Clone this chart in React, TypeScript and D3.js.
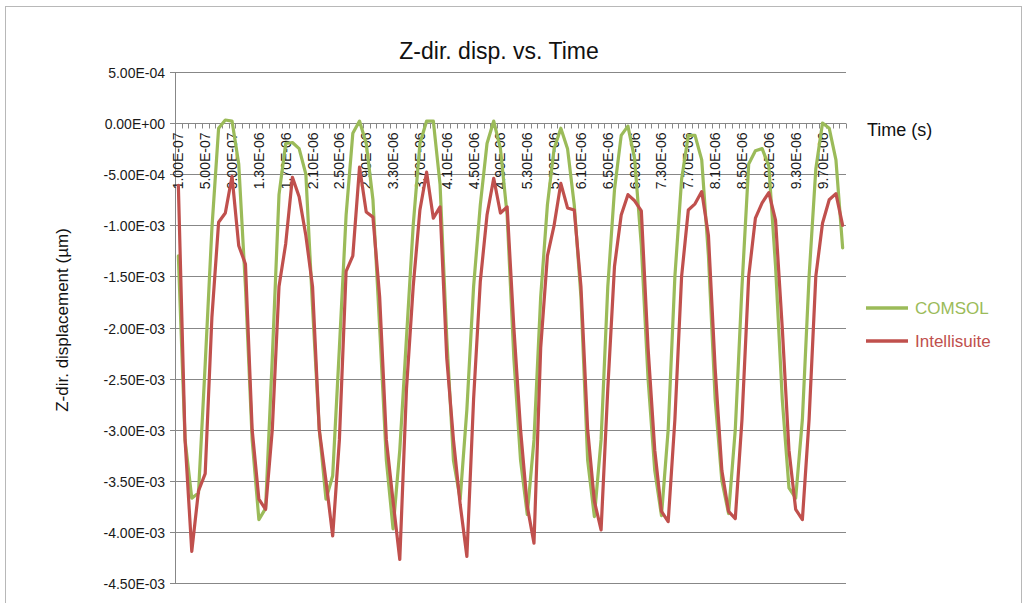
import * as d3 from "d3";
import { useEffect, useRef } from "react";

// time steps (s), one category every 1E-07
const timeSteps = d3.range(1, 101).map(k => k * 1e-7);

// only every 4th category gets a label
const xTickLabels = [
    "1.00E-07", "5.00E-07", "9.00E-07", "1.30E-06", "1.70E-06", "2.10E-06", "2.50E-06",
    "2.90E-06", "3.30E-06", "3.70E-06", "4.10E-06", "4.50E-06", "4.90E-06", "5.30E-06",
    "5.70E-06", "6.10E-06", "6.50E-06", "6.90E-06", "7.30E-06", "7.70E-06", "8.10E-06",
    "8.50E-06", "8.90E-06", "9.30E-06", "9.70E-06"
];

const yTickValues = [0.5, 0, -0.5, -1, -1.5, -2, -2.5, -3, -3.5, -4, -4.5]; // x 1E-03

// z displacement, in units of 1E-03 um
const comsol = [
    -1.30, -3.10, -3.67, -3.62, -2.36, -1.03, -0.05, 0.03, 0.02, -0.40,
    -1.60, -3.10, -3.88, -3.77, -2.30, -0.70, -0.20, -0.19, -0.25, -0.50,
    -1.80, -3.00, -3.68, -3.45, -2.20, -0.90, -0.10, 0.02, -0.20, -0.75,
    -2.00, -3.30, -3.97, -3.20, -2.10, -1.00, -0.20, 0.02, 0.02, -0.60,
    -2.10, -3.30, -3.68, -2.80, -1.60, -0.80, -0.20, 0.02, -0.25, -0.90,
    -2.30, -3.30, -3.83, -3.10, -1.70, -0.80, -0.25, -0.05, -0.25, -0.80,
    -1.70, -3.30, -3.85, -3.10, -1.60, -0.65, -0.12, -0.03, -0.35, -1.20,
    -2.50, -3.40, -3.84, -3.00, -1.50, -0.55, -0.12, -0.12, -0.36, -1.30,
    -2.70, -3.50, -3.82, -3.00, -1.60, -0.40, -0.27, -0.25, -0.42, -1.40,
    -2.70, -3.57, -3.67, -2.90, -1.50, -0.45, 0.00, -0.05, -0.36, -1.22
];

const intellisuite = [
    -0.61, -3.10, -4.19, -3.60, -3.43, -1.90, -0.97, -0.88, -0.52, -1.20,
    -1.38, -3.00, -3.68, -3.78, -3.00, -1.60, -1.18, -0.53, -0.72, -1.10,
    -1.60, -3.00, -3.50, -4.04, -3.10, -1.45, -1.30, -0.43, -0.87, -0.92,
    -1.70, -3.10, -3.70, -4.27, -2.60, -1.60, -0.85, -0.48, -0.93, -0.82,
    -2.30, -3.10, -3.73, -4.24, -2.70, -1.55, -0.90, -0.54, -0.88, -0.82,
    -2.00, -3.00, -3.75, -4.11, -2.20, -1.30, -1.00, -0.59, -0.83, -0.85,
    -1.60, -3.00, -3.70, -3.98, -2.60, -1.40, -0.90, -0.70, -0.76, -0.86,
    -2.20, -3.20, -3.80, -3.90, -2.90, -1.50, -0.85, -0.79, -0.67, -1.10,
    -2.40, -3.40, -3.80, -3.87, -2.90, -1.50, -0.93, -0.78, -0.68, -0.95,
    -2.00, -3.20, -3.78, -3.88, -2.90, -1.50, -0.98, -0.75, -0.69, -1.00
];

const seriesNames = ["COMSOL", "Intellisuite"];
const seriesColors = ["#9bbb59", "#c0504d"];

const FONT = "'Liberation Sans', Arial, sans-serif";

const formatTick = (v: number) => {
    const s = (v * 1e-3).toExponential(2).toUpperCase();
    return s.replace(/E([+-])(\d)$/, "E$10$2");
};

const renderChart = (node: SVGSVGElement | null) => {
    if (!node) return;
    const svg = d3.select(node);
    svg.selectAll("*").remove();

    const left = 175, right = 846, top = 72, bottom = 583;
    const gridColor = "#878787";

    // outer chart frame
    svg.append("rect")
        .attr("x", 5.5).attr("y", 6.5)
        .attr("width", 1016).attr("height", 620)
        .attr("fill", "white")
        .attr("stroke", "#b8b8b8");

    const xScale = d3.scaleBand<number>()
        .domain(d3.range(timeSteps.length))
        .range([left, right]);
    const bw = xScale.bandwidth();

    const yScale = d3.scaleLinear().domain([-4.5, 0.5]).range([bottom, top]);

    // gridlines + y ticks
    const grid = svg.append("g");
    yTickValues.forEach(v => {
        const yy = Math.round(yScale(v)) + 0.5;
        grid.append("line")
            .attr("x1", left - 5).attr("x2", right)
            .attr("y1", yy).attr("y2", yy)
            .attr("stroke", gridColor).attr("stroke-width", 1);
        grid.append("text")
            .attr("x", left - 10).attr("y", yy + 5)
            .attr("text-anchor", "end")
            .attr("font-family", FONT).attr("font-size", 14)
            .attr("fill", "#1a1a1a")
            .text(formatTick(v));
    });

    // y axis line
    svg.append("line")
        .attr("x1", left + 0.5).attr("x2", left + 0.5)
        .attr("y1", top).attr("y2", bottom)
        .attr("stroke", gridColor);

    // x axis at zero with tick marks
    const y0 = Math.round(yScale(0)) + 0.5;
    const xAxis = svg.append("g");
    xAxis.append("line")
        .attr("x1", left).attr("x2", right)
        .attr("y1", y0).attr("y2", y0)
        .attr("stroke", gridColor);
    d3.range(timeSteps.length + 1).forEach(i => {
        const xx = Math.round(left + i * bw) + 0.5;
        xAxis.append("line")
            .attr("x1", xx).attr("x2", xx)
            .attr("y1", y0).attr("y2", y0 + 5)
            .attr("stroke", gridColor);
    });
    xTickLabels.forEach((label, k) => {
        const cx = (xScale(k * 4) as number) + bw / 2;
        xAxis.append("text")
            .attr("transform", "translate(" + (cx + 5) + "," + (y0 + 9) + ") rotate(-90)")
            .attr("text-anchor", "end")
            .attr("font-family", FONT).attr("font-size", 14)
            .attr("fill", "#1a1a1a")
            .text(label);
    });

    // series lines
    const line = d3.line<number>()
        .x((d, i) => (xScale(i) as number) + bw / 2)
        .y(d => yScale(d));

    [comsol, intellisuite].forEach((values, s) => {
        svg.append("path")
            .datum(values)
            .attr("d", line)
            .attr("fill", "none")
            .attr("stroke", seriesColors[s])
            .attr("stroke-width", 3.2)
            .attr("stroke-linejoin", "round")
            .attr("stroke-linecap", "round");
    });

    // titles
    svg.append("text")
        .attr("x", 499).attr("y", 59)
        .attr("text-anchor", "middle")
        .attr("font-family", FONT).attr("font-size", 23)
        .attr("fill", "#111")
        .text("Z-dir. disp. vs. Time");

    svg.append("text")
        .attr("x", 867).attr("y", 136)
        .attr("font-family", FONT).attr("font-size", 18)
        .attr("fill", "#111")
        .text("Time (s)");

    svg.append("text")
        .attr("transform", "translate(68,320) rotate(-90)")
        .attr("text-anchor", "middle")
        .attr("font-family", FONT).attr("font-size", 17)
        .attr("fill", "#111")
        .text("Z-dir. displacement (µm)");

    // legend
    const legend = svg.append("g");
    seriesNames.forEach((name, s) => {
        const ly = 308 + s * 33;
        legend.append("line")
            .attr("x1", 866).attr("x2", 908)
            .attr("y1", ly).attr("y2", ly)
            .attr("stroke", seriesColors[s])
            .attr("stroke-width", 3.5);
        legend.append("text")
            .attr("x", 915).attr("y", ly + 6)
            .attr("font-family", FONT).attr("font-size", 17)
            .attr("fill", seriesColors[s])
            .text(name);
    });
};

const App = () => {
    const ref = useRef<SVGSVGElement>(null);

    useEffect(() => {
        renderChart(ref.current);
    }, []);

    return (
        <div style={{ position: "absolute", left: 0, top: 0 }}>
            <svg ref={ref} width={1034} height={603} style={{ display: "block", background: "white" }} />
        </div>
    );
};

export default App;
